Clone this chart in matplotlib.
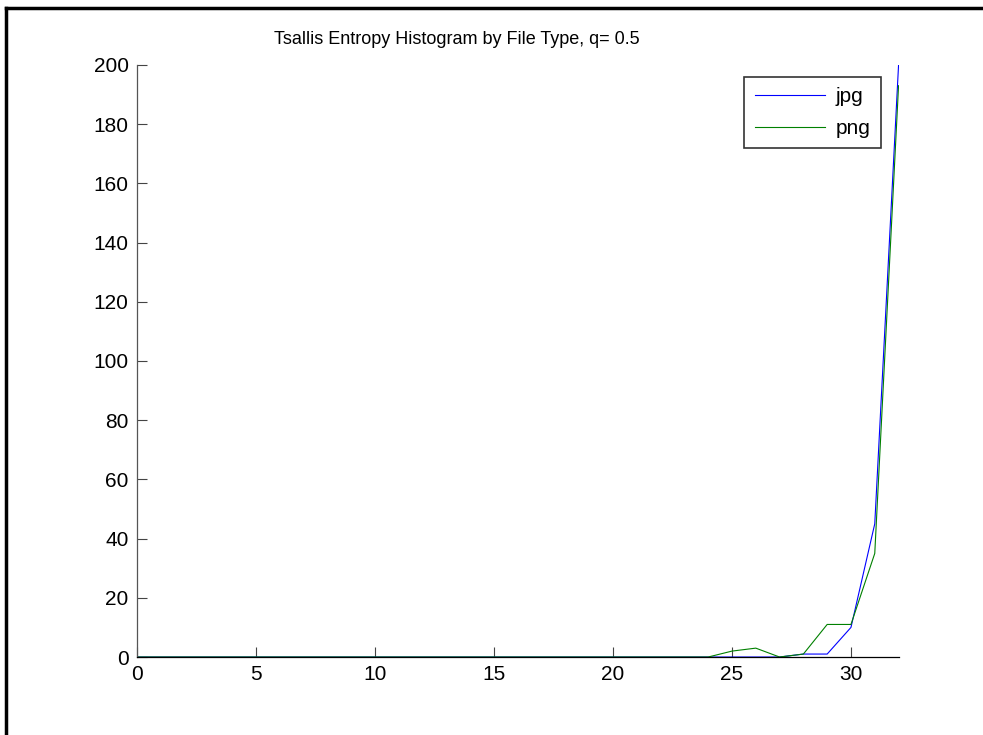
import numpy as np
import matplotlib
matplotlib.use('Agg')
from matplotlib import pyplot as plt
from matplotlib.lines import Line2D

plt.rcParams['font.family'] = ['Liberation Sans', 'DejaVu Sans']

# bins 0..32
bins = list(range(33))
jpg = [0] * 28 + [1, 1, 10, 45, 200]
png = [0] * 25 + [2, 3, 0, 1, 11, 11, 35, 193]
xticks = [0, 5, 10, 15, 20, 25, 30]
yticks = [0, 20, 40, 60, 80, 100, 120, 140, 160, 180, 200]

fig = plt.figure(figsize=(9.83, 7.35), dpi=100)
ax = fig.add_axes([0.1394, 0.1061, 0.7747, 0.8055])

ax.plot(bins, jpg, color=(0, 0, 1), lw=0.8, label='jpg')
ax.plot(bins, png, color=(0, 0.5, 0), lw=0.8, label='png')

ax.set_xlim(0, 32)
ax.set_ylim(0, 200)
ax.set_xticks(xticks)
ax.set_yticks(yticks)
ax.tick_params(direction='in', length=7, width=0.8, labelsize=15, colors='#444444',
               labelcolor='black')
ax.tick_params(axis='y', pad=6)
ax.tick_params(axis='x', pad=6)
ax.spines['top'].set_visible(False)
ax.spines['right'].set_visible(False)
ax.spines['left'].set_color('#555555')
ax.spines['bottom'].set_color('black')
ax.spines['left'].set_linewidth(0.9)
ax.spines['bottom'].set_linewidth(0.9)

fig.text(0.465, 0.946, 'Tsallis Entropy Histogram by File Type, q= 0.5',
         ha='center', va='center', fontsize=13)

leg = ax.legend(loc='upper right', bbox_to_anchor=(0.8963, 0.8952),
                bbox_transform=fig.transFigure, fontsize=15, fancybox=False,
                handlelength=3.4, handletextpad=0.5, labelspacing=0.6,
                borderpad=0.5, borderaxespad=0)
leg.get_frame().set_edgecolor('black')
leg.get_frame().set_linewidth(1.2)

# figure border on left and top
fig.add_artist(Line2D([0.0065, 0.0065], [0, 0.9888], color='black', lw=2.5,
                      transform=fig.transFigure))
fig.add_artist(Line2D([0.0065, 1], [0.9888, 0.9888], color='black', lw=2.5,
                      transform=fig.transFigure))

fig.savefig('out.png', dpi=100)
